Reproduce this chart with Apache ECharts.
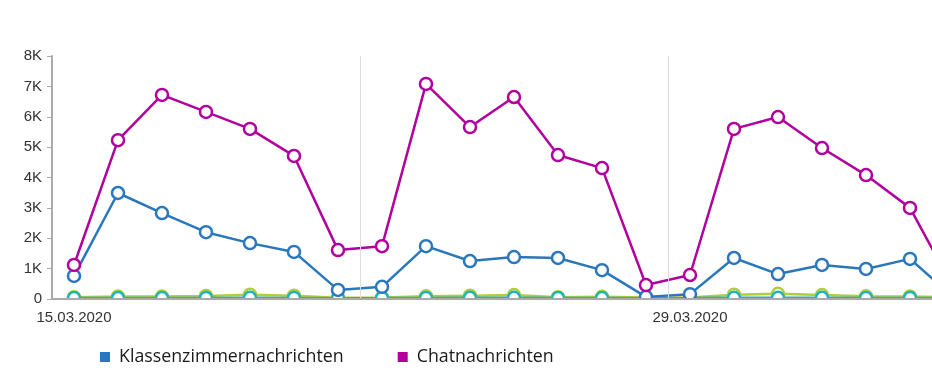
<!DOCTYPE html>
<html>
<head>
<meta charset="utf-8">
<script src="https://cdn.jsdelivr.net/npm/echarts@6/dist/echarts.min.js"></script>
<style>
html,body{margin:0;padding:0;overflow:hidden;background:#fff;}
#c{width:1000px;height:385px;}
</style>
</head>
<body>
<div id="c"></div>
<script>
const categories = ['15.03.2020','16.03.2020','17.03.2020','18.03.2020','19.03.2020','20.03.2020','21.03.2020',
  '22.03.2020','23.03.2020','24.03.2020','25.03.2020','26.03.2020','27.03.2020','28.03.2020',
  '29.03.2020','30.03.2020','31.03.2020','01.04.2020','02.04.2020','03.04.2020','04.04.2020'];
const klassenzimmer = [760,3490,2830,2200,1840,1550,300,400,1740,1250,1380,1350,950,70,160,1350,820,1120,990,1320,40];
const chat = [1120,5230,6720,6160,5600,4710,1610,1740,7080,5660,6650,4740,4310,460,790,5600,5990,4970,4080,3000,330];
const seriesC = [60,80,80,100,140,110,40,50,90,110,130,60,70,50,50,140,170,130,90,80,60];
const seriesD = [30,32,32,35,38,35,28,30,35,38,38,32,32,28,30,38,40,38,34,34,30];
const yTicks = [0,1000,2000,3000,4000,5000,6000,7000,8000];

const BLUE = '#2a77bd', PURPLE = '#b1009e';
const chart = echarts.init(document.getElementById('c'));
function mk(name, data, color, z){
  return {
    name, type:'line', data, z,
    symbol:'circle', symbolSize:12, showSymbol:true,
    lineStyle:{color, width:2.5},
    itemStyle:{color:'#fff', borderColor:color, borderWidth:2.5},
    emphasis:{disabled:true}
  };
}
chart.setOption({
  animation:false,
  textStyle:{fontFamily:'Liberation Sans, Arial, sans-serif'},
  legend:{
    left:95, top:343, icon:'rect', itemWidth:10, itemHeight:10, itemGap:54,
    textStyle:{fontFamily:'Open Sans', fontSize:17.8, color:'#1a1a1a', padding:[0,0,0,4]},
    data:[
      {name:'Klassenzimmernachrichten', itemStyle:{color:BLUE, borderWidth:0}},
      {name:'Chatnachrichten', itemStyle:{color:PURPLE, borderWidth:0}}
    ]
  },
  graphic:[{type:'rect', z:5, silent:true, shape:{x:53, y:300, width:960, height:12}, style:{fill:'#fff'}}],
  grid:{left:52, top:56, width:924, bottom:86},
  xAxis:{
    type:'category', data:categories, boundaryGap:true, z:10,
    axisLine:{lineStyle:{color:'#aaa', width:2}},
    axisTick:{interval:13, length:8, lineStyle:{color:'#aaa', width:1}},
    axisLabel:{interval:13, fontSize:15, color:'#333', margin:11},
    splitLine:{show:true, interval:6, lineStyle:{color:'#ddd', width:1}}
  },
  yAxis:{
    type:'value', min:yTicks[0], max:yTicks[yTicks.length-1], interval:1000, z:10,
    axisLine:{show:true, lineStyle:{color:'#aaa', width:2}},
    axisTick:{show:true, length:5, lineStyle:{color:'#aaa'}},
    axisLabel:{fontSize:15, color:'#333', margin:10, formatter:v=>v===0?'0':(v/1000)+'K'},
    splitLine:{show:false}
  },
  series:[
    mk('Klassenzimmernachrichten', klassenzimmer, BLUE, 3),
    mk('Chatnachrichten', chat, PURPLE, 4),
    mk('Weitere', seriesC, '#b3cc3c', 2),
    mk('Sonstige', seriesD, '#1db3be', 2)
  ]
});
</script>
</body>
</html>
